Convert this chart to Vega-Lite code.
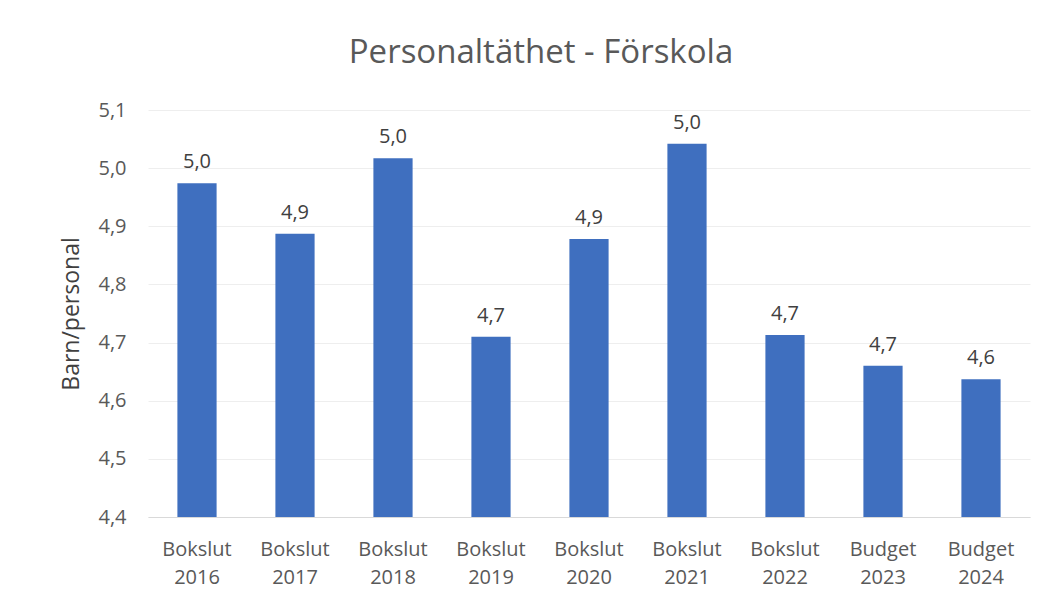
{
  "$schema": "https://vega.github.io/schema/vega-lite/v6.json",
  "autosize": "none",
  "width": 882,
  "height": 407,
  "padding": {"left": 148, "top": 110, "right": 19, "bottom": 88},
  "background": "white",
  "config": {
    "locale": {"number": {"decimal": ",", "thousands": " ", "grouping": [3], "currency": ["", " kr"]}},
    "view": {"stroke": null},
    "font": "Open Sans"
  },
  "title": {
    "text": "Personaltäthet - Förskola",
    "fontSize": 33,
    "font": "Open Sans",
    "fontWeight": "normal",
    "color": "#595959",
    "anchor": "middle",
    "dx": -48,
    "offset": 30
  },
  "data": {
    "values": [
      {"period": "Bokslut 2016", "value": 4.974},
      {"period": "Bokslut 2017", "value": 4.887},
      {"period": "Bokslut 2018", "value": 5.017},
      {"period": "Bokslut 2019", "value": 4.71},
      {"period": "Bokslut 2020", "value": 4.878},
      {"period": "Bokslut 2021", "value": 5.042},
      {"period": "Bokslut 2022", "value": 4.713},
      {"period": "Budget 2023", "value": 4.66},
      {"period": "Budget 2024", "value": 4.637}
    ]
  },
  "encoding": {
    "x": {
      "field": "period",
      "type": "nominal",
      "sort": null,
      "scale": {"paddingInner": 0.6, "paddingOuter": 0.3},
      "axis": {
        "title": null,
        "labelAngle": 0,
        "labelExpr": "split(datum.label, ' ')",
        "labelLineHeight": 28,
        "labelFontSize": 20,
        "labelColor": "#595959",
        "labelPadding": 22,
        "ticks": false,
        "domainColor": "#d9d9d9",
        "labelFont": "Open Sans"
      }
    },
    "y": {
      "field": "value",
      "type": "quantitative",
      "scale": {"domain": [4.4, 5.1], "nice": false, "zero": false},
      "axis": {
        "title": "Barn/personal",
        "titleFontSize": 23,
        "titleFontWeight": "normal",
        "titleColor": "#404040",
        "titlePadding": 14,
        "titleFont": "Open Sans",
        "values": [4.4, 4.5, 4.6, 4.7, 4.8, 4.9, 5.0, 5.1],
        "format": ".1f",
        "labelFontSize": 20,
        "labelColor": "#595959",
        "labelPadding": 22,
        "labelFont": "Open Sans",
        "ticks": false,
        "domain": false,
        "gridColor": "#eeeeee"
      }
    }
  },
  "layer": [
    {"mark": {"type": "bar", "color": "#3F6FBF", "clip": true}},
    {
      "mark": {"type": "text", "baseline": "bottom", "dy": -11, "fontSize": 20, "color": "#404040", "font": "Open Sans"},
      "encoding": {"text": {"field": "value", "type": "quantitative", "format": ".1f"}}
    }
  ]
}
